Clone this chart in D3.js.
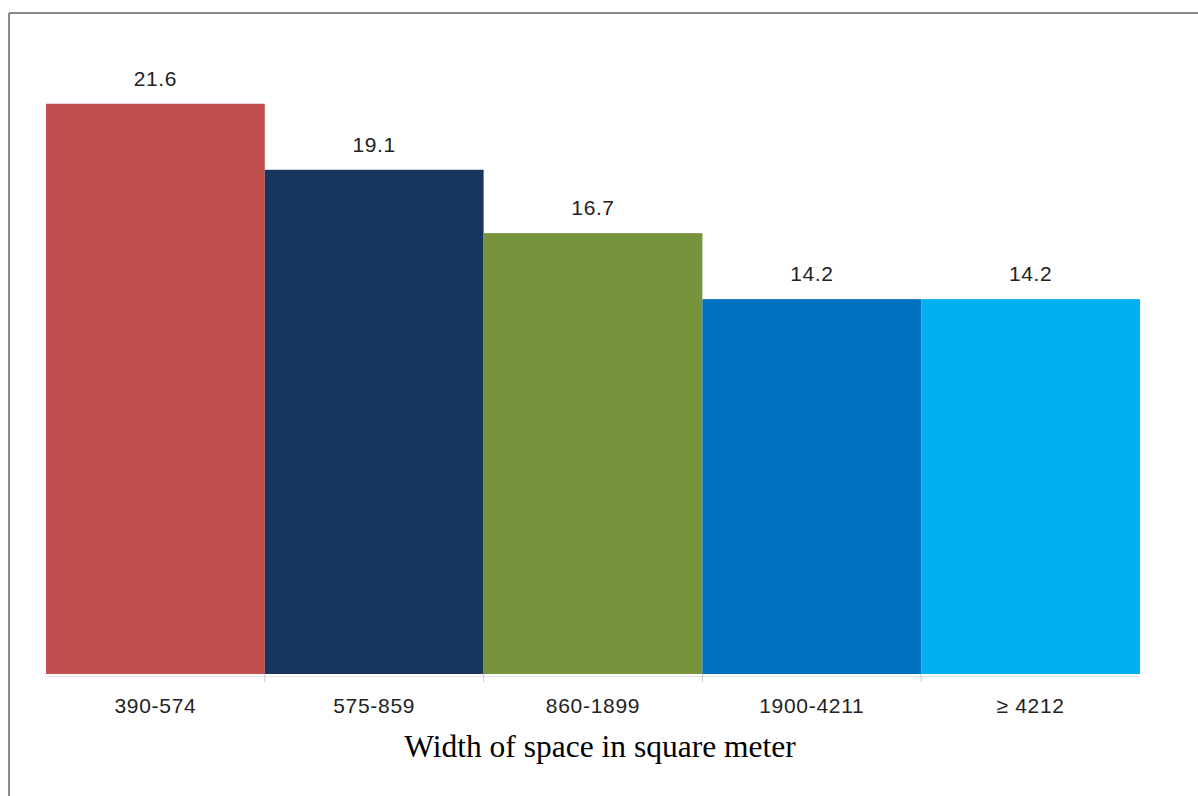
<!DOCTYPE html>
<html>
<head>
<meta charset="utf-8">
<script src="https://cdn.jsdelivr.net/npm/d3@7"></script>
<style>
  html, body { margin: 0; padding: 0; background: #fff; }
  svg { display: block; }
</style>
</head>
<body>
<svg id="chart" width="1198" height="796"></svg>
<script>
// Share of cases by size class of the space
const categories = ["390-574", "575-859", "860-1899", "1900-4211", "\u2265 4212"];
const values = [21.6, 19.1, 16.7, 14.2, 14.2];
const barColors = ["#c0504d", "#17365d", "#77933c", "#0070c0", "#00b0f0"];
const axisTitle = "Width of space in square meter";

const svg = d3.select("#chart");
const W = 1198, H = 796;

// frame lines (top and left)
svg.append("line").attr("x1", 9).attr("y1", 13).attr("x2", W).attr("y2", 13)
  .attr("stroke", "#8a8a8a").attr("stroke-width", 2);
svg.append("line").attr("x1", 9).attr("y1", 13).attr("x2", 9).attr("y2", H)
  .attr("stroke", "#8a8a8a").attr("stroke-width", 2);

const x = d3.scaleBand().domain(categories).range([46, 1140]).padding(0);
const y = d3.scaleLinear().domain([0, 25]).range([674, 14]);

// bars
svg.append("g").selectAll("rect")
  .data(values)
  .join("rect")
  .attr("x", (d, i) => x(categories[i]))
  .attr("y", d => y(d))
  .attr("width", x.bandwidth())
  .attr("height", d => y(0) - y(d))
  .attr("fill", (d, i) => barColors[i]);

// value labels
svg.append("g").selectAll("text")
  .data(values)
  .join("text")
  .attr("x", (d, i) => x(categories[i]) + x.bandwidth() / 2)
  .attr("y", d => y(d) - 18)
  .attr("text-anchor", "middle")
  .attr("font-family", "Liberation Sans, Arial, sans-serif")
  .attr("font-size", 21)
  .attr("letter-spacing", 0.6)
  .attr("fill", "#222")
  .text(d => d.toFixed(1));

// category axis
const xAxis = svg.append("g")
  .attr("transform", `translate(0,${y(0) + 2})`)
  .call(d3.axisBottom(x).tickSize(0).tickPadding(0));
xAxis.select(".domain").attr("stroke", "#e4e4e4").attr("stroke-width", 1);
xAxis.selectAll(".tick text")
  .attr("y", 37)
  .attr("dy", 0)
  .attr("font-family", "Liberation Sans, Arial, sans-serif")
  .attr("font-size", 21)
  .attr("letter-spacing", 0.7)
  .attr("fill", "#222");

// small dividers between category bands
svg.append("g").selectAll("line")
  .data(categories.slice(1))
  .join("line")
  .attr("x1", d => x(d)).attr("x2", d => x(d))
  .attr("y1", y(0)).attr("y2", y(0) + 8)
  .attr("stroke", "#c8c8c8");

// axis title
svg.append("text")
  .attr("x", 600)
  .attr("y", 757)
  .attr("text-anchor", "middle")
  .attr("font-family", "Liberation Serif, Times New Roman, serif")
  .attr("font-size", 31.5)
  .attr("fill", "#000")
  .text(axisTitle);
</script>
</body>
</html>
